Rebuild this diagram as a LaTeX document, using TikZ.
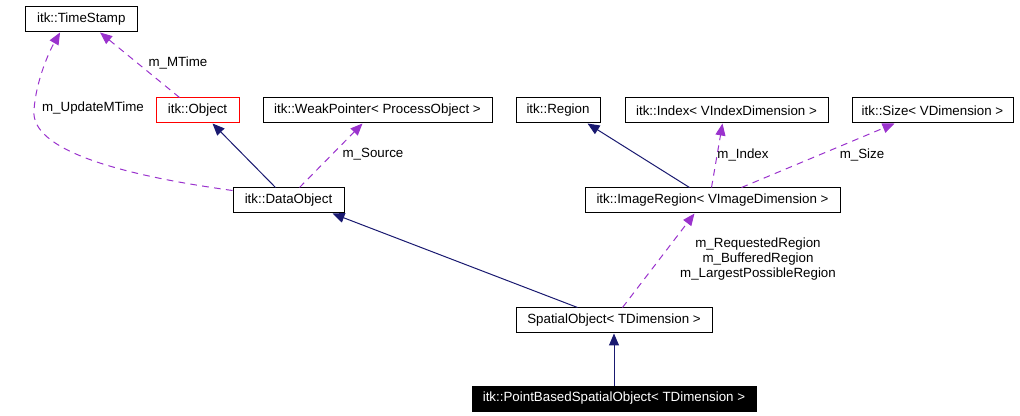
\documentclass[tikz,border=0pt]{standalone}
\usepackage{fontspec}
\setmainfont{Liberation Sans}
\usetikzlibrary{arrows.meta,calc}
\definecolor{navy}{HTML}{191970}
\definecolor{purp}{HTML}{9A32CD}
\tikzset{
  box/.style={draw=black, line width=0.75pt, fill=white, inner sep=0pt, minimum height=18.75pt, font=\fontsize{10}{11}\selectfont, text=black},
  redbox/.style={box, draw=red},
  darkbox/.style={box, fill=black, text=white},
  inh/.style={draw=navy, line width=0.75pt, -{Triangle[length=9pt,width=7.5pt]}},
  use/.style={draw=purp, line width=0.75pt, dash pattern=on 5pt off 4pt, -{Triangle[length=9pt,width=7.5pt]}},
  lab/.style={font=\fontsize{10}{11}\selectfont, text=black, inner sep=0pt, align=center}
}
\begin{document}
\begin{tikzpicture}[x=0.75pt,y=-0.75pt]
\useasboundingbox (0,0) rectangle (1020,416);
\node[box, minimum width=83.6pt] (ts) at (81.3,19.5) {itk::TimeStamp};
\node[redbox, minimum width=62.25pt] (obj) at (197.5,110.5) {itk::Object};
\node[box, minimum width=171.75pt] (wp) at (377.5,110.5) {itk::WeakPointer< ProcessObject >};
\node[box, minimum width=63pt] (reg) at (558,110.5) {itk::Region};
\node[box, minimum width=152.25pt] (idx) at (726.5,110.5) {itk::Index< VIndexDimension >};
\node[box, minimum width=120.75pt] (sz) at (932.5,110.5) {itk::Size< VDimension >};
\node[box, minimum width=83.25pt] (data) at (288.5,200.5) {itk::DataObject};
\node[box, minimum width=191.25pt] (ir) at (712.5,200.5) {itk::ImageRegion< VImageDimension >};
\node[box, minimum width=147pt] (so) at (614,320.5) {SpatialObject< TDimension >};
\node[darkbox, minimum width=213pt] (pb) at (614,398.5) {itk::PointBasedSpatialObject< TDimension >};

% edges
\draw[use] ($(obj.north west)+(24,0)$) -- ($(ts.south west)+(75,0)$);
\draw[use] ($(data.north west)+(0,3)$) .. controls (120,175) and (30,150) .. (34,110)
   .. controls (36,80) and (50,50) .. ($(ts.south west)+(35,0)$);
\draw[inh] ($(data.north west)+(43,0)$) -- ($(obj.south west)+(57,0)$);
\draw[use] ($(data.north west)+(67,0)$) -- ($(wp.south west)+(100,0)$);
\draw[inh] ($(ir.north west)+(105,0)$) -- ($(reg.south west)+(72,0)$);
\draw[use] ($(ir.north west)+(127,0)$) -- ($(idx.south west)+(98,0)$);
\draw[use] ($(ir.north west)+(157,0)$) -- ($(sz.south west)+(43,0)$);
\draw[inh] ($(so.north west)+(62,0)$) -- ($(data.south west)+(100,0)$);
\draw[use] ($(so.north west)+(107,0)$) -- ($(ir.south west)+(110,0)$);
\draw[inh] (pb.north) -- (so.south);

% labels
\node[lab] (l1) at (178,63) {m\_MTime};
\node[lab] (l2) at (93,108) {m\_UpdateMTime};
\node[lab] (l3) at (373,154) {m\_Source};
\node[lab] (l4) at (743,155) {m\_Index};
\node[lab] (l5) at (862,155) {m\_Size};
\node[lab] (l6) at (758,259) {m\_RequestedRegion\\m\_BufferedRegion\\m\_LargestPossibleRegion};
\end{tikzpicture}
\end{document}
